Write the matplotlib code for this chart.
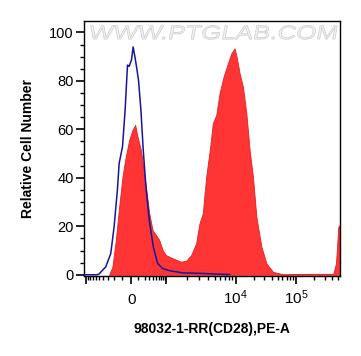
import numpy as np
import matplotlib
matplotlib.use('Agg')
import matplotlib.pyplot as plt
from matplotlib.textpath import TextPath
from matplotlib.patches import PathPatch
from matplotlib.font_manager import FontProperties
from matplotlib.transforms import Affine2D

plt.rcParams['font.family'] = ['Liberation Sans', 'DejaVu Sans']
plt.rcParams['mathtext.default'] = 'regular'

# isotype control (blue line)
ctrl_x = [-1110, -560, -500, -340, -249, -198, -153, -131, -92, -63, -38, -21, 4, 26, 49, 71,
          100, 137, 176, 226, 298, 404, 550, 778, 1107, 1730, 3020, 5266, 8190]
ctrl_y = [0, 0, 0.3, 3.3, 8.8, 19.8, 35, 46, 52.8, 68, 86.5, 86, 88.6, 94, 90, 86,
          80.3, 68, 51.4, 36.3, 22.6, 11.6, 4.7, 2.6, 1.7, 0.8, 0.6, 0.3, 0.1]

# CD28 stained sample (red fill)
cd28_x = [-277, -223, -174, -131, -92, -63, -21, 17, 53, 86,
          137, 176, 226, 298, 384, 492, 620, 778, 979, 1236,
          1639, 1938, 2290, 2705, 3020, 3370, 3774, 4310, 4697, 5266,
          5872, 6707, 7740, 8665, 9670, 10510, 11660, 13230, 15080, 17110,
          19420, 22120, 26800, 32470, 41860, 61400, 194000, 418000, 464000, 506600,
          541000]
cd28_y = [0, 3.3, 14.3, 28, 40.4, 47.3, 55.6, 59.7, 61.8, 57,
          51.4, 44.5, 36.3, 25.3, 18.4, 16.4, 14.3, 10.2, 8.1, 6.8,
          5.4, 5.8, 8.1, 13, 21.2, 25.3, 40.4, 52.8, 62.5, 65.9,
          74.8, 81.7, 87.2, 91.3, 93.4, 89.3, 83.1, 77.6, 66.6, 51.4,
          40.4, 23.9, 11.6, 4.7, 1.2, 0.2, 0.4, 0.4, 4.7, 19.8,
          20.6]

major_ticks = [-1000, 0, 1000, 1e4, 1e5]
major_labels = ['', '0', '', '$10^4$', '$10^5$']
minor_ticks = (list(range(-900, 0, 100)) + list(range(100, 1000, 100)) +
               list(range(2000, 10000, 1000)) + list(range(20000, 100000, 10000)) +
               [2e5, 3e5, 4e5, 5e5])

# biexponential-like display scale (asinh, anchored to the decade positions)
W = 200.0
anchor_v = np.array([-1e4, -1e3, 0, 1e3, 1e4, 1e5, 1e6, 1e7])
anchor_u = np.array([42.4, 87, 132, 167, 236, 296, 356, 416])
anchor_g = np.arcsinh(anchor_v / W)


def fwd(x):
    return np.interp(np.arcsinh(np.asarray(x, dtype=float) / W), anchor_g, anchor_u)


def inv(u):
    return W * np.sinh(np.interp(np.asarray(u, dtype=float), anchor_u, anchor_g))


fig = plt.figure(figsize=(3.61, 3.56), dpi=100)
ax = fig.add_axes([84 / 361, 80 / 356, 256 / 361, 255 / 356])
ax.set_xscale('function', functions=(fwd, inv))

ax.fill_between(cd28_x, cd28_y, 0, facecolor='#ff3535', edgecolor='#e02020', linewidth=0.6, zorder=2)
ax.plot(ctrl_x, ctrl_y, color='#15159e', linewidth=1.1, zorder=3)

ax.set_xlim(-1110, 541000)
ax.set_ylim(-0.5, 104.7)

ax.set_xticks(major_ticks)
ax.set_xticklabels(major_labels)
ax.set_xticks(minor_ticks, minor=True)
ax.set_yticks(range(0, 101, 20))
ax.set_yticks(range(0, 105, 5), minor=True)

ax.tick_params(axis='both', which='major', direction='out', length=6, width=1.2, labelsize=10.5, color='black')
ax.tick_params(axis='both', which='minor', direction='out', length=3, width=1.0, color='black')
ax.tick_params(axis='x', which='major', pad=14.5, labelsize=11)
ax.tick_params(axis='y', which='major', pad=1.5)
for lbl in ax.get_xticklabels():
    lbl.set_verticalalignment('baseline')

for sp in ax.spines.values():
    sp.set_linewidth(1.0)

ax.set_xlabel('98032-1-RR(CD28),PE-A', fontsize=10, fontweight='bold')
ax.set_ylabel('Relative Cell Number', fontsize=10, fontweight='bold')
ax.xaxis.set_label_coords(0.5, -0.18)
ax.yaxis.set_label_coords(-0.19, 0.5)

# watermark
tp = TextPath((0, 0), 'WWW.PTGLAB.COM', size=1, prop=FontProperties(family='Liberation Sans'))
ext = tp.get_extents()
sx = (0.98 - 0.016) / ext.width
sy = (0.984 - 0.929) / 0.72
tr = Affine2D().translate(-ext.x0, 0).skew_deg(8, 0).scale(sx, sy).translate(0.016, 0.929)
ax.add_patch(PathPatch(tr.transform_path(tp), facecolor='#f0f0f0', edgecolor='#cccccc',
                       linewidth=0.5, transform=ax.transAxes, zorder=1, clip_on=False))

fig.savefig('out.png', dpi=100)
